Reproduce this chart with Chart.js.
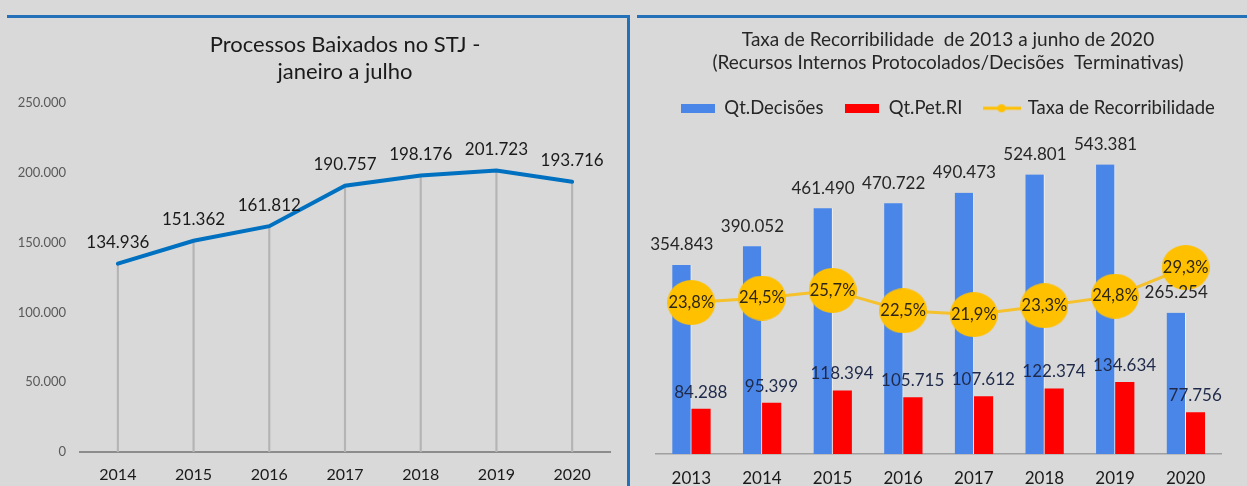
<!DOCTYPE html>
<html>
<head>
<meta charset="utf-8">
<script src="https://cdn.jsdelivr.net/npm/chart.js@4.4.1/dist/chart.umd.min.js"></script>
<style>
  html, body { margin: 0; padding: 0; background: #d9d9d9; }
  body { width: 1247px; height: 486px; position: relative; overflow: hidden; }
  .wrap { position: absolute; top: 0; height: 486px; }
  #left-wrap { left: 0; width: 630px; }
  #right-wrap { left: 630px; width: 617px; }
  .rule { position: absolute; background: #2471b9; }
</style>
</head>
<body>
<div class="wrap" id="left-wrap"><canvas id="chart-baixados"></canvas></div>
<div class="wrap" id="right-wrap"><canvas id="chart-recorribilidade"></canvas></div>
<div class="rule" style="left:7px;top:15px;width:623px;height:3px"></div>
<div class="rule" style="left:627px;top:15px;width:3px;height:471px"></div>
<div class="rule" style="left:637px;top:15px;width:610px;height:3px"></div>
<script>
// left chart: processos baixados (jan-jul)
const anosBaixados = ["2014", "2015", "2016", "2017", "2018", "2019", "2020"];
const processosBaixados = [134936, 151362, 161812, 190757, 198176, 201723, 193716];

// right chart: taxa de recorribilidade
const anosRecorribilidade = ["2013", "2014", "2015", "2016", "2017", "2018", "2019", "2020"];
const qtDecisoes = [354843, 390052, 461490, 470722, 490473, 524801, 543381, 265254];
const qtPetRI = [84288, 95399, 118394, 105715, 107612, 122374, 134634, 77756];
const taxaRecorribilidade = [23.8, 24.5, 25.7, 22.5, 21.9, 23.3, 24.8, 29.3];

const FONT = "Lato, 'Open Sans', sans-serif";

const formatMil = (v) => String(Math.round(v)).replace(/\B(?=(\d{3})+(?!\d))/g, ".");
const formatPct = (v) => v.toFixed(1).replace(".", ",") + "%";

// draws dataset.valueLabel text over each element
const valueLabels = {
  id: "valueLabels",
  afterDatasetsDraw(chart) {
    const { ctx } = chart;
    chart.data.datasets.forEach((dataset, i) => {
      const style = dataset.valueLabel;
      if (!style) return;
      const meta = chart.getDatasetMeta(i);
      ctx.save();
      ctx.font = style.font;
      ctx.fillStyle = style.color;
      ctx.textAlign = "center";
      ctx.textBaseline = "middle";
      meta.data.forEach((el, j) => {
        ctx.fillText(style.format(dataset.data[j]), el.x, el.y - style.offset);
      });
      ctx.restore();
    });
  },
};

const makeIcon = (draw, w, h) => {
  const c = document.createElement("canvas");
  c.width = w;
  c.height = h;
  draw(c.getContext("2d"), w, h);
  return c;
};

const boxIcon = (color) =>
  makeIcon((ctx, w, h) => {
    ctx.fillStyle = color;
    ctx.fillRect(0, 0, w, h);
  }, 34, 9);

const lineIcon = (color) =>
  makeIcon((ctx, w, h) => {
    ctx.strokeStyle = color;
    ctx.lineWidth = 3;
    ctx.beginPath();
    ctx.moveTo(0, h / 2);
    ctx.lineTo(w, h / 2);
    ctx.stroke();
    ctx.fillStyle = color;
    ctx.beginPath();
    ctx.arc(w / 2, h / 2, 4, 0, Math.PI * 2);
    ctx.fill();
  }, 38, 10);

// markers in the source are slightly wider than tall
const ellipseIcon = (color) =>
  makeIcon((ctx, w, h) => {
    ctx.fillStyle = color;
    ctx.beginPath();
    ctx.ellipse(w / 2, h / 2, w / 2, h / 2, 0, 0, Math.PI * 2);
    ctx.fill();
  }, 48, 45);

const renderBaixados = () => {
  const ctx = document.querySelector("#chart-baixados");
  new Chart(ctx, {
    type: "line",
    data: {
      labels: anosBaixados,
      datasets: [
        {
          type: "line",
          label: "Processos Baixados",
          data: processosBaixados,
          borderColor: "#0070c0",
          borderWidth: 4,
          pointRadius: 0,
          borderCapStyle: "round",
          order: 0,
          valueLabel: { font: `17px ${FONT}`, color: "#1a1a1a", offset: 21, format: formatMil },
        },
        {
          // drop lines from each point to the axis
          type: "bar",
          label: "drop",
          data: processosBaixados,
          backgroundColor: "#b4b4b4",
          barThickness: 1.5,
          order: 1,
        },
      ],
    },
    options: {
      responsive: true,
      maintainAspectRatio: false,
      animation: false,
      layout: { padding: { left: 0, right: 20, top: 0, bottom: 0 } },
      plugins: {
        legend: { display: false },
        tooltip: { enabled: false },
        title: {
          display: true,
          fullSize: false,
          text: ["Processos Baixados no STJ -", "janeiro a julho"],
          color: "#1a1a1a",
          font: { family: FONT, size: 22, weight: "normal", lineHeight: 1.23 },
          padding: { top: 31, bottom: 18 },
        },
      },
      scales: {
        x: {
          offset: true,
          afterFit: (scale) => {
            scale.height = 34;
          },
          grid: { display: false, drawTicks: false },
          border: { color: "#8c8c8c", width: 2 },
          ticks: { color: "#1a1a1a", font: { family: FONT, size: 16 }, padding: 13 },
        },
        y: {
          min: 0,
          max: 250000,
          afterFit: (scale) => {
            scale.width = 80;
          },
          grid: { display: false, drawTicks: false },
          border: { display: false },
          ticks: {
            stepSize: 50000,
            padding: 14,
            color: "#595959",
            font: { family: FONT, size: 13 },
            callback: (v) => formatMil(v),
          },
        },
      },
    },
    plugins: [valueLabels],
  });
};

const renderRecorribilidade = () => {
  const ctx = document.querySelector("#chart-recorribilidade");
  const icons = [boxIcon("#4a86e8"), boxIcon("#ff0000"), lineIcon("#ffc000")];
  new Chart(ctx, {
    type: "bar",
    data: {
      labels: anosRecorribilidade,
      datasets: [
        {
          label: "Qt.Decisões",
          data: qtDecisoes,
          backgroundColor: "#4a86e8",
          borderColor: "#f2f2f2",
          borderWidth: { right: 1 },
          borderSkipped: false,
          barThickness: 19,
          yAxisID: "y",
          order: 1,
          valueLabel: { font: `17px ${FONT}`, color: "#262626", offset: 20, format: formatMil },
        },
        {
          label: "Qt.Pet.RI",
          data: qtPetRI,
          backgroundColor: "#ff0000",
          barThickness: 19,
          yAxisID: "y",
          order: 2,
          valueLabel: { font: `17px ${FONT}`, color: "#1f2a4a", offset: 17, format: formatMil },
        },
        {
          type: "line",
          label: "Taxa de Recorribilidade",
          data: taxaRecorribilidade,
          borderColor: "#f5c12c",
          borderWidth: 3,
          pointStyle: ellipseIcon("#ffc000"),
          pointRadius: 23,
          yAxisID: "y2",
          order: 0,
          valueLabel: { font: `16.5px ${FONT}`, color: "#2e2614", offset: 0, format: formatPct },
        },
      ],
    },
    options: {
      responsive: true,
      maintainAspectRatio: false,
      animation: false,
      layout: { padding: { left: 24, right: 5, top: 0, bottom: 0 } },
      plugins: {
        tooltip: { enabled: false },
        title: {
          display: true,
          text: ["Taxa de Recorribilidade  de 2013 a junho de 2020", "(Recursos Internos Protocolados/Decisões  Terminativas)"],
          color: "#262626",
          font: { family: FONT, size: 19, weight: "normal", lineHeight: 1.21 },
          padding: { top: 28, bottom: 3 },
        },
        legend: {
          position: "top",
          labels: {
            usePointStyle: true,
            pointStyleWidth: 34,
            boxHeight: 10,
            padding: 22,
            color: "#262626",
            font: { family: FONT, size: 18.5 },
            generateLabels: (chart) =>
              chart.data.datasets.map((ds, i) => ({
                text: ds.label,
                pointStyle: icons[i],
                datasetIndex: i,
                hidden: false,
                lineWidth: 0,
                strokeStyle: "transparent",
                fillStyle: "transparent",
                fontColor: "#262626",
              })),
          },
        },
      },
      scales: {
        x: {
          afterFit: (scale) => {
            scale.height = 32;
            scale.paddingLeft = 0;
            scale.paddingRight = 0;
          },
          grid: { display: false, drawTicks: false },
          border: { color: "#a0a0a0", width: 1.5 },
          ticks: { color: "#1a1a1a", font: { family: FONT, size: 17 }, padding: 14 },
        },
        y: { display: false, min: 0, max: 613000 },
        y2: { display: false, min: 0, max: 51.3 },
      },
    },
    plugins: [valueLabels],
  });
};

document.addEventListener("DOMContentLoaded", () => {
  renderBaixados();
  renderRecorribilidade();
});
</script>
</body>
</html>
